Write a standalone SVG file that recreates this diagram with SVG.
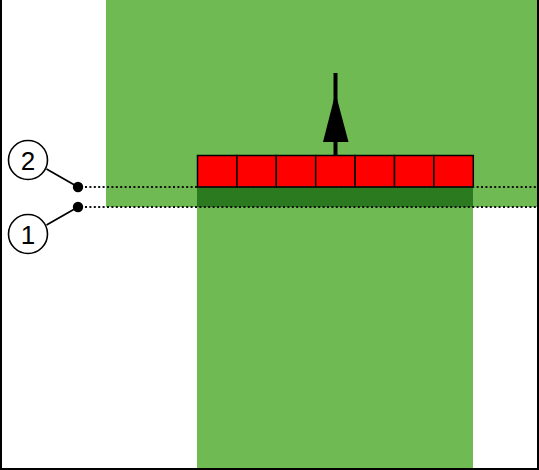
<svg xmlns="http://www.w3.org/2000/svg" width="539" height="470" viewBox="0 0 539 470">
  <style>
    .field { fill: #6fba52; }
    .worked { fill: #2b7a1f; }
    .cell { fill: #ff0000; stroke: #000; stroke-width: 1.5; }
    .dotline { stroke: #111; stroke-width: 2; stroke-dasharray: 2 2.4; fill: none; }
    .lead { stroke: #000; stroke-width: 1.8; fill: none; }
    .callout { fill: #fff; stroke: #000; stroke-width: 1.6; }
    .num { font-family: "Liberation Sans", Arial, sans-serif; font-size: 26px; fill: #000; text-anchor: middle; }
  </style>
  <rect x="0" y="0" width="539" height="470" fill="#fff"/>
  <g id="field">
    <rect class="field" x="106" y="0" width="433" height="207"/>
    <rect class="field" x="197" y="207" width="276" height="263"/>
    <rect class="worked" x="197" y="187" width="276" height="20"/>
  </g>
  <g id="boom">
    <rect class="cell" x="197.5" y="155.5" width="39.4" height="31.5"/>
    <rect class="cell" x="236.9" y="155.5" width="39.4" height="31.5"/>
    <rect class="cell" x="276.3" y="155.5" width="39.4" height="31.5"/>
    <rect class="cell" x="315.7" y="155.5" width="39.4" height="31.5"/>
    <rect class="cell" x="355.1" y="155.5" width="39.4" height="31.5"/>
    <rect class="cell" x="394.5" y="155.5" width="39.4" height="31.5"/>
    <rect class="cell" x="433.9" y="155.5" width="39.4" height="31.5"/>
  </g>
  <g id="direction">
    <line x1="335.5" y1="73" x2="335.5" y2="155" stroke="#000" stroke-width="4"/>
    <polygon points="335.5,93 323,142 348.5,142" fill="#000"/>
  </g>
  <g id="connectors">
    <line class="dotline" x1="85" y1="187" x2="539" y2="187"/>
    <line class="dotline" x1="85" y1="207" x2="539" y2="207"/>
    <line class="lead" x1="46.5" y1="169" x2="78" y2="187"/>
    <line class="lead" x1="46.5" y1="225" x2="78" y2="207"/>
    <circle cx="78" cy="187" r="5.2" fill="#000"/>
    <circle cx="78" cy="207" r="5.2" fill="#000"/>
  </g>
  <g id="callout-2">
    <circle class="callout" cx="28" cy="160" r="19.5"/>
    <text class="num" x="28" y="169.5">2</text>
  </g>
  <g id="callout-1">
    <circle class="callout" cx="28" cy="234" r="19.5"/>
    <text class="num" x="28" y="243.5">1</text>
  </g>
  <polyline points="1,0 1,469 538,469 538,0" fill="none" stroke="#000" stroke-width="2"/>
</svg>
